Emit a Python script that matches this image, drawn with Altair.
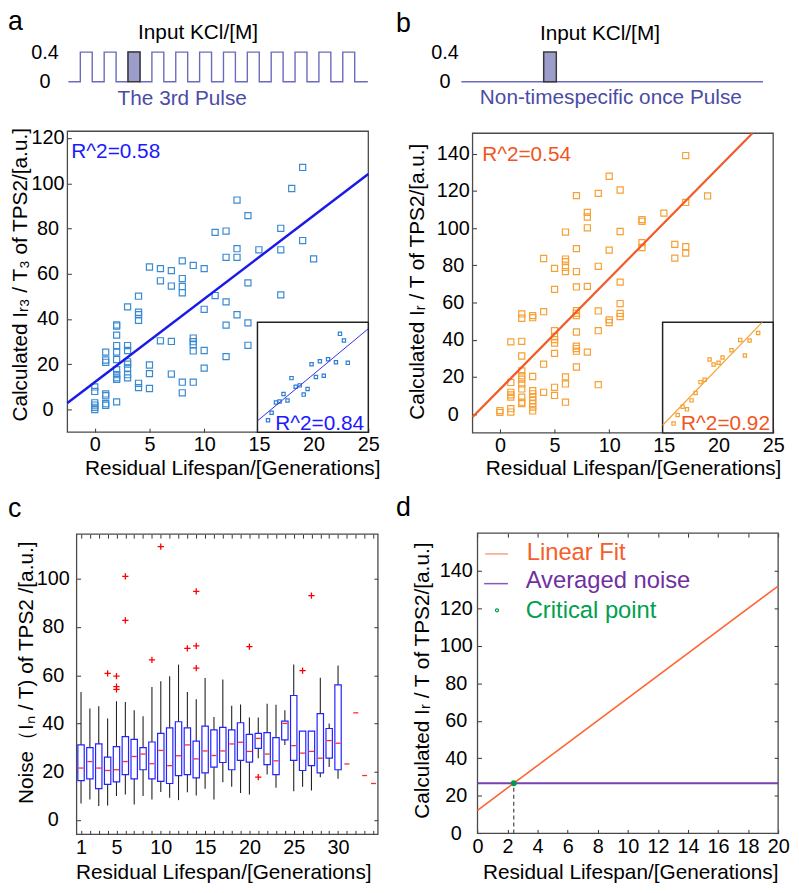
import altair as alt
import pandas as pd

W, H, M = 791, 885, 8
FONT = "Liberation Sans"

# ====================== data ======================
# top pulse schematics
pulse_starts_a = [1, 3, 5, 7, 9, 11, 13, 15, 17, 19, 21, 23]
pulse_width = 1.0
pulse_level = 0.4
pulse_end = 25.1
highlight = 2          # the 3rd pulse
pulse_b = [6.85, 7.9]  # single pulse in panel b

# panel a scatter
a_x = [0, 0, 0, 0, 0, 0,
       1, 1, 1, 1, 1, 1, 1,
       2, 2, 2, 2, 2, 2, 2, 2, 2, 2, 2,
       3, 3, 3, 3, 3, 3, 3, 3,
       4, 4, 4, 4, 4, 4,
       5, 5, 5, 5,
       6, 6, 6,
       7, 7, 7, 7,
       8, 8, 8, 8, 8, 8,
       9, 9, 9, 9, 9, 9,
       10, 10, 10, 10,
       11, 11,
       12, 12, 12, 12, 12,
       13, 13, 13, 13,
       14, 14, 14, 14,
       15,
       17, 17, 17,
       18,
       19, 19,
       20]
a_y = [10, 8, 3, 2, 1, 0,
       25.4, 21.9, 20.9, 6.9, 6.1, 2.6, 1.9,
       37.4, 36.9, 32.9, 28.3, 25.4, 22.1, 17.6, 15.4, 14, 13.3, 3.4,
       45.4, 28.3, 26.1, 21.1, 20.1, 18.3, 15.4, 14,
       50.1, 43, 41.9, 39.4, 11.6, 9.7,
       63, 19.7, 15.9, 9.3,
       62.3, 56.9, 30.4,
       61.4, 54.6, 30.1, 15.7,
       65.7, 57.9, 54.4, 51.6, 12.1, 7.4,
       63.7, 31.6, 30, 28.7, 25.9, 12.1,
       62.3, 44.3, 26.1, 18.3,
       78.3, 50.4,
       78.9, 67.3, 47.6, 37.3, 23.4,
       92.6, 71.1, 67.3, 41.9,
       85.7, 56, 38.3, 28.4,
       70.6,
       80.1, 70.6, 50.7,
       97.7,
       107, 74.7,
       66.6]
a_fit_x = [-2.5, 25]
a_fit_y = [2.9, 104.1]
a_in_x = [0.95, 1.28, 1.67, 1.99, 2.35, 2.71, 3.07, 3.45, 3.81, 4.17,
          4.52, 4.88, 5.27, 5.63, 5.98, 6.37, 7.08, 7.44, 7.80, 8.15]
a_in_y = [1.08, 1.77, 2.70, 2.79, 3.48, 2.88, 4.92, 4.14, 4.26, 3.42,
          3.93, 6.19, 5.02, 6.46, 5.14, 6.64, 6.37, 8.95, 8.35, 6.31]
a_in_fit_x = [0, 10]
a_in_fit_y = [1.03, 9.42]

# panel b scatter
b_x = [0, 0,
       1, 1, 1, 1, 1, 1, 1,
       2, 2, 2, 2, 2, 2, 2, 2, 2, 2, 2, 2,
       3, 3, 3, 3, 3, 3, 3, 3, 3, 3,
       4, 4, 4, 4,
       5, 5, 5, 5, 5, 5, 5, 5, 5,
       6, 6, 6, 6, 6, 6, 6, 6,
       7, 7, 7, 7, 7, 7, 7, 7, 7, 7, 7, 7,
       8, 8, 8, 8, 8,
       9, 9, 9, 9, 9,
       10, 10, 10, 10,
       11, 11, 11, 11, 11, 11,
       13, 13, 13, 13,
       15,
       16, 16,
       17, 17, 17, 17,
       19]
b_y = [2, 1,
       38.9, 17.1, 11.8, 10.4, 9.2, 3, 1.2,
       53.9, 51.6, 39.2, 31.3, 23.3, 20.7, 18.9, 16.3, 13.6, 9.2, 6.5, 5.7,
       53, 51.9, 20.3, 12.7, 11, 9.2, 7.4, 5.7, 3.9, 1.8,
       83.7, 55.1, 26.9, 11.8,
       78.4, 67.1, 44.9, 41.9, 40.1, 38.3, 32.7, 14.5, 10.1,
       97.9, 83.4, 82, 79, 76.7, 20.1, 16.3, 6.5,
       117.5, 89, 76.7, 68.4, 55.7, 54.2, 53, 44.2, 36.6, 35.3, 33.9, 25.4,
       108.5, 106, 100.2, 68.7, 33.4,
       118.7, 79.5, 55.5, 44.9, 15.9,
       127.9, 88.2, 50.7, 49.3,
       120.5, 98.2, 71, 59.5, 54.2, 52.5,
       104.6, 103.7, 92.2, 89.6,
       108.1,
       91.3, 83.9,
       139, 113.8, 90.1, 86.6,
       117.3]
b_fit_x = [-2.5, 23.1]
b_fit_y = [-1.5, 151]
b_in_x = [0.99, 1.36, 1.81, 2.20, 2.62, 2.98, 3.43, 3.80, 4.25, 4.61,
          5.06, 5.42, 6.23, 7.02, 7.44, 7.86, 8.64]
b_in_y = [0.84, 1.62, 2.37, 2.13, 2.94, 3.60, 4.59, 4.80, 6.64, 6.19,
          6.34, 6.82, 7.48, 8.41, 7.00, 8.35, 9.04]
b_in_fit_x = [0, 9.0]
b_in_fit_y = [0.69, 10]

# panel c boxplots
c_pos = [1, 2, 3, 4, 5, 6, 7, 8, 9, 10, 11, 12, 13, 14, 15,
         16, 17, 18, 19, 20, 21, 22, 23, 24, 25, 26, 27, 28, 29, 30]
c_lo = [6.8, 8.5, 5.8, 6, 9.9, 10.5, 6.4, 9.9, 8.5, 11.6, 9.2, 8.2, 11.5, 10.1, 12.9,
        8.5, 15.6, 13.7, 11.2, 10.5, 25.6, 18.8, 13.3, 31.1, 11.9, 13.7, 12.2, 17.7, 21.9, 17.1]
c_q1 = [16.3, 17, 13, 14.7, 15.8, 18.8, 17, 20.8, 17, 16, 15.1, 18.4, 18.8, 17.4, 19.5,
        21.9, 23.8, 20.8, 24.7, 24, 29.7, 22.9, 18.8, 33.2, 24.7, 20.5, 22.5, 19.5, 25.6, 20.8]
c_med = [21.5, 24.2, 21.5, 20.5, 20.8, 24.2, 26.3, 27.3, 23.3, 28.8, 22.5, 26.6, 31.1, 25.3, 28.6,
         26.7, 28.6, 31.5, 32.2, 28.4, 33.8, 27.3, 24.5, 40, 30.8, 27.7, 28.4, 25.6, 32.9, 31.8]
c_q3 = [31.1, 30, 31.5, 26, 30.4, 34.5, 33.4, 30, 32.3, 35.9, 38.2, 40.7, 38.2, 32.7, 38.9,
        37.3, 38.4, 37.3, 40.3, 35.5, 35.9, 36.2, 34.1, 41, 51.6, 36.8, 36.8, 44.1, 37.9, 56]
c_hi = [53, 46.2, 47.1, 42.1, 49.2, 48.9, 45.5, 43, 55.1, 57.5, 59.6, 64.4, 53, 50, 58.8,
        42.7, 58.2, 47.3, 47.9, 42.5, 42.5, 48.2, 47.8, 45.5, 64.4, 36.8, 36.8, 58.9, 40, 64]
c_out_pos = [4, 5, 5, 5, 6, 6, 9, 10, 13, 14, 14, 14, 20, 21, 26, 27]
c_out_val = [60.8, 59.6, 55.3, 54.1, 101, 82.7, 66.4, 113.3, 71.1, 94.8, 72.2, 62.9, 71.9, 17.7, 61.9, 93]
c_single_pos = [31, 32, 33, 34]
c_single_val = [23.2, 44.4, 18.4, 15.1]

# panel d
d_fit_x = [0, 20]
d_fit_y = [12.3, 131.8]
d_noise_x = [0, 20]
d_noise_y = [26.7, 26.7]
d_crit_x = [2.41]
d_crit_y = [26.7]

# axis domains and ticks
a_xdom, a_ydom = [-2.5, 25], [-10, 123]
b_xdom, b_ydom = [-2.5, 25], [-10, 151]
c_xdom, c_ydom = [0.5, 34.5], [-6, 118.5]
d_xdom, d_ydom = [0, 20], [0, 160]
in_dom = [0, 10]
pulse_xdom, pulse_ydom = [0, pulse_end], [0, pulse_level]
a_xticks = [0, 5, 10, 15, 20, 25]
a_yticks = [0, 20, 40, 60, 80, 100, 120]
b_yticks = [0, 20, 40, 60, 80, 100, 120, 140]
c_xticks = [1, 2, 3, 4, 5, 6, 7, 8, 9, 10, 11, 12, 13, 14, 15, 16, 17,
            18, 19, 20, 21, 22, 23, 24, 25, 26, 27, 28, 29, 30, 31, 32, 33, 34]
c_xlabels = [1, 5, 10, 15, 20, 25, 30]
c_yticks = [0, 20, 40, 60, 80, 100]
d_xticks = [0, 2, 4, 6, 8, 10, 12, 14, 16, 18, 20]
d_yticks = [0, 20, 40, 60, 80, 100, 120, 140]
a_in_ticks = [0.8, 2.5, 4.2, 5.8, 7.5, 9.2]
b_in_ticks = [0.8, 2.2, 3.6, 5.0, 6.4, 7.8, 9.3]

# ====================== helpers ======================
def sc(dom, p0, p1):
    return alt.Scale(domain=dom, range=[p0 - M, p1 - M], nice=False, zero=False)


def pts(xv, yv, sx, sy, **mk):
    df = pd.DataFrame({"x": xv, "y": yv})
    return alt.Chart(df).mark_point(**mk).encode(
        x=alt.X("x:Q", scale=sx, axis=None), y=alt.Y("y:Q", scale=sy, axis=None))


def line(xv, yv, sx, sy, **mk):
    df = pd.DataFrame({"x": xv, "y": yv, "i": list(range(len(xv)))})
    return alt.Chart(df).mark_line(**mk).encode(
        x=alt.X("x:Q", scale=sx, axis=None), y=alt.Y("y:Q", scale=sy, axis=None),
        order="i:Q")


def frame(xd, yd, sx, sy, **mk):
    df = pd.DataFrame({"x0": [xd[0]], "x1": [xd[1]], "y0": [yd[0]], "y1": [yd[1]]})
    return alt.Chart(df).mark_rect(**mk).encode(
        x=alt.X("x0:Q", scale=sx, axis=None), x2="x1:Q",
        y=alt.Y("y0:Q", scale=sy, axis=None), y2="y1:Q")


def axis_layer(ch, vals, scale, orient, edge, tick=4, labels=True, pad=3, size=20,
               expr=None, align=None, baseline=None, ticks=True, tcolor="#333"):
    if orient == "bottom":
        off = (edge - M - tick) - H
    elif orient in ("top", "left"):
        off = -((edge - M) + tick)
    else:
        off = (edge - M - tick) - W
    kw = dict(orient=orient, values=vals, offset=off, tickSize=tick, ticks=ticks,
              tickColor=tcolor, tickWidth=1, domain=False, grid=False, labels=labels,
              labelFont=FONT, labelFontSize=size, labelColor="black", labelPadding=pad,
              labelFlush=False, labelOverlap=False, format="~r", title=None)
    if expr:
        kw["labelExpr"] = expr
    if align:
        kw["labelAlign"] = align
    if baseline:
        kw["labelBaseline"] = baseline
    base = alt.Chart(pd.DataFrame({"v": vals})).mark_point(opacity=0)
    if ch == "x":
        return base.encode(x=alt.X("v:Q", scale=scale, axis=alt.Axis(**kw)))
    return base.encode(y=alt.Y("v:Q", scale=scale, axis=alt.Axis(**kw)))


def txt(s, x, y, size=21, color="black", align="center", angle=0, baseline="alphabetic"):
    kw = dict(align=align, baseline=baseline, fontSize=size, font=FONT, color=color)
    if angle:
        kw["angle"] = angle
    return alt.Chart(pd.DataFrame({"t": [s]})).mark_text(**kw).encode(
        x=alt.value(x - M), y=alt.value(y - M), text="t:N")


layers = []

# ====================== panel a ======================
PAX = sc(pulse_xdom, 69, 371.5)
PAY = sc(pulse_ydom, 78, 48)
t_a, l_a = [0.0], [0.0]
for s in pulse_starts_a:
    t_a += [s, s + pulse_width]
    l_a += [pulse_level, 0.0]
t_a.append(pulse_end)
l_a.append(0.0)
layers.append(line(t_a, l_a, PAX, PAY, color="#6b6bbb", strokeWidth=1.4,
                   interpolate="step-after"))
hs = pulse_starts_a[highlight]
layers.append(frame([hs, hs + pulse_width], [0, pulse_level], PAX, PAY,
                    fill="#9d9dcc", stroke="#3a3a3a", strokeWidth=1.5))
layers.append(axis_layer("y", [0, 0.4], PAY, "left", 69, tick=0, ticks=False, pad=24,
                         align="center", baseline="middle"))
layers.append(txt("Input KCl/[M]", 200, 35))
layers.append(txt("The 3rd Pulse", 184, 101, color="#4b4ba6"))
layers.append(txt("a", 8, 26, size=27, align="left"))

AX = sc(a_xdom, 68, 372)
AY = sc(a_ydom, 432, 128)
layers.append(frame(a_xdom, a_ydom, AX, AY, fillOpacity=0, stroke="#4a4a4a", strokeWidth=1.3))
layers.append(axis_layer("x", a_xticks, AX, "bottom", 432, pad=3))
layers.append(axis_layer("y", a_yticks, AY, "left", 68, pad=20, align="center"))
layers.append(pts(a_x, a_y, AX, AY, shape="square", filled=False, size=38,
                  color="#3a8ad2", strokeWidth=1.2, opacity=1))
layers.append(line(a_fit_x, a_fit_y, AX, AY, color="#1a1ae8", strokeWidth=2.5))
layers.append(txt("R^2=0.58", 72, 155, color="#1a1aff", align="left"))

AIX = sc(in_dom, 260, 372)
AIY = sc(in_dom, 432, 321)
layers.append(frame(in_dom, in_dom, AIX, AIY, fill="white", stroke="#222", strokeWidth=1.5))
layers.append(axis_layer("y", a_in_ticks, AIY, "left", 260, tick=3, labels=False, tcolor="#666"))
layers.append(pts(a_in_x, a_in_y, AIX, AIY, shape="square", filled=False, size=11,
                  color="#2f7fcf", strokeWidth=1.2, opacity=1))
layers.append(line(a_in_fit_x, a_in_fit_y, AIX, AIY, color="#3030ee", strokeWidth=1))
layers.append(txt("R^2=0.84", 278, 430, color="#1a1aff", align="left"))

layers.append(txt("Calculated  I\u1d63\u2083 / T\u2083 of TPS2/[a.u.]", 27, 273, angle=270))
layers.append(txt("Residual Lifespan/[Generations]", 235, 475))

# ====================== panel b ======================
PBX = sc(pulse_xdom, 466, 770.7)
layers.append(line([0, pulse_end], [0, 0], PBX, PAY, color="#6b6bbb", strokeWidth=1.4))
layers.append(frame(pulse_b, [0, pulse_level], PBX, PAY,
                    fill="#9d9dcc", stroke="#3a3a3a", strokeWidth=1.5))
layers.append(axis_layer("y", [0, 0.4], PAY, "left", 466, tick=0, ticks=False, pad=17,
                         align="center", baseline="middle"))
layers.append(txt("Input KCl/[M]", 606, 35.5))
layers.append(txt("Non-timespecific once Pulse", 617, 100, color="#4b4ba6"))
layers.append(txt("b", 400, 28, size=27, align="left"))

BX = sc(b_xdom, 477.3, 781)
BY = sc(b_ydom, 432.7, 130)
layers.append(frame(b_xdom, b_ydom, BX, BY, fillOpacity=0, stroke="#4a4a4a", strokeWidth=1.3))
layers.append(axis_layer("x", a_xticks, BX, "bottom", 432.7, pad=3))
layers.append(axis_layer("y", b_yticks, BY, "left", 477.3, pad=20, align="center"))
layers.append(pts(b_x, b_y, BX, BY, shape="square", filled=False, size=38,
                  color="#f7a035", strokeWidth=1.2, opacity=1))
layers.append(line(b_fit_x, b_fit_y, BX, BY, color="#f25a26", strokeWidth=2.2))
layers.append(txt("R^2=0.54", 487, 158, color="#f0561f", align="left"))

BIX = sc(in_dom, 669.3, 781)
BIY = sc(in_dom, 432.7, 321)
layers.append(frame(in_dom, in_dom, BIX, BIY, fill="white", stroke="#222", strokeWidth=1.5))
layers.append(axis_layer("y", b_in_ticks, BIY, "left", 669.3, tick=3, labels=False, tcolor="#666"))
layers.append(pts(b_in_x, b_in_y, BIX, BIY, shape="square", filled=False, size=11,
                  color="#f5a030", strokeWidth=1.2, opacity=1))
layers.append(line(b_in_fit_x, b_in_fit_y, BIX, BIY, color="#f5a030", strokeWidth=1.1))
layers.append(txt("R^2=0.92", 688, 430, color="#f0561f", align="left"))

layers.append(txt("Calculated  I\u1d63 / T of TPS2/[a.u.]", 428, 280, angle=270))
layers.append(txt("Residual Lifespan/[Generations]", 640, 475))

# ====================== panel c ======================
CX = sc(c_xdom, 77.3, 381.7)
CY = sc(c_ydom, 838.3, 535)
layers.append(txt("c", 8, 518, size=27, align="left"))
layers.append(frame(c_xdom, c_ydom, CX, CY, fillOpacity=0, stroke="#4a4a4a", strokeWidth=1.3))
lab_expr = "indexof(" + str(c_xlabels) + ", datum.value) >= 0 ? datum.label : ''"
layers.append(axis_layer("x", c_xticks, CX, "bottom", 838.3, pad=3, expr=lab_expr))
layers.append(axis_layer("x", c_xticks, CX, "top", 535, labels=False))
layers.append(axis_layer("y", c_yticks, CY, "left", 77.3, pad=24, align="center"))
layers.append(axis_layer("y", c_yticks, CY, "right", 381.7, labels=False))

df_c = pd.DataFrame({"pos": c_pos, "lo": c_lo, "q1": c_q1, "med": c_med,
                     "q3": c_q3, "hi": c_hi})
layers.append(alt.Chart(df_c).mark_rule(color="#222", strokeWidth=1.1).encode(
    x=alt.X("pos:Q", scale=CX, axis=None),
    y=alt.Y("lo:Q", scale=CY, axis=None), y2="hi:Q"))
layers.append(alt.Chart(df_c).transform_calculate(
    l="datum.pos - 0.36", r="datum.pos + 0.36").mark_rect(
    fill="white", stroke="#2323ff", strokeWidth=1.2).encode(
    x=alt.X("l:Q", scale=CX, axis=None), x2="r:Q",
    y=alt.Y("q1:Q", scale=CY, axis=None), y2="q3:Q"))
layers.append(alt.Chart(df_c).transform_calculate(
    l="datum.pos - 0.28", r="datum.pos + 0.28").mark_rule(
    color="#ff2a2a", strokeWidth=1.3).encode(
    x=alt.X("l:Q", scale=CX, axis=None), x2="r:Q",
    y=alt.Y("med:Q", scale=CY, axis=None)))
df_cs = pd.DataFrame({"pos": c_single_pos, "v": c_single_val})
layers.append(alt.Chart(df_cs).transform_calculate(
    l="datum.pos - 0.28", r="datum.pos + 0.28").mark_rule(
    color="#ff2a2a", strokeWidth=1.3).encode(
    x=alt.X("l:Q", scale=CX, axis=None), x2="r:Q",
    y=alt.Y("v:Q", scale=CY, axis=None)))
layers.append(pts(c_out_pos, c_out_val, CX, CY, shape="M-1,0L1,0M0,-1L0,1",
                  filled=False, size=40, color="#ff0000", strokeWidth=1.3, opacity=1))
layers.append(txt("Noise\uff08I\u2099 / T) of TPS2 /[a.u.]", 33, 675, angle=270))
layers.append(txt("Residual Lifespan/[Generations]", 226, 883))

# ====================== panel d ======================
DX = sc(d_xdom, 482.3, 786)
DY = sc(d_ydom, 837.3, 534)
layers.append(txt("d", 400, 517, size=27, align="left"))
layers.append(frame(d_xdom, d_ydom, DX, DY, fillOpacity=0, stroke="#4a4a4a", strokeWidth=1.3))
layers.append(axis_layer("x", d_xticks, DX, "bottom", 837.3, pad=3))
layers.append(axis_layer("x", d_xticks, DX, "top", 534, labels=False))
layers.append(axis_layer("y", d_yticks, DY, "left", 482.3, pad=22, align="center"))
layers.append(axis_layer("y", d_yticks, DY, "right", 786, labels=False))
layers.append(line(d_noise_x, d_noise_y, DX, DY, color="#7a3fb0", strokeWidth=2))
layers.append(line(d_fit_x, d_fit_y, DX, DY, color="#ff6534", strokeWidth=1.6))
df_crit = pd.DataFrame({"x": d_crit_x, "y": d_crit_y, "y0": [d_ydom[0]]})
layers.append(alt.Chart(df_crit).mark_rule(color="#555", strokeWidth=1.3,
                                           strokeDash=[4, 3]).encode(
    x=alt.X("x:Q", scale=DX, axis=None),
    y=alt.Y("y0:Q", scale=DY, axis=None), y2="y:Q"))
layers.append(pts(d_crit_x, d_crit_y, DX, DY, shape="circle", filled=True, size=36,
                  color="#00994c", opacity=1))

# legend
layers.append(alt.Chart(pd.DataFrame({"t": ["Linear Fit"]})).mark_rule(
    color="#f9a080", strokeWidth=1.5).encode(
    x=alt.value(490 - M), x2=alt.value(513 - M), y=alt.value(555 - M)))
layers.append(alt.Chart(pd.DataFrame({"t": ["Averaged noise"]})).mark_rule(
    color="#8a55c0", strokeWidth=1.5).encode(
    x=alt.value(489 - M), x2=alt.value(513 - M), y=alt.value(585 - M)))
layers.append(alt.Chart(pd.DataFrame({"t": ["Critical point"]})).mark_point(
    shape="circle", filled=False, size=10, color="#00994c", strokeWidth=1.2, opacity=1).encode(
    x=alt.value(502 - M), y=alt.value(612 - M)))
layers.append(txt("Linear Fit", 532, 561, size=24, color="#f4602a", align="left"))
layers.append(txt("Averaged noise", 531, 589, size=24, color="#7030a0", align="left"))
layers.append(txt("Critical point", 531, 620, size=24, color="#00a050", align="left"))

layers.append(txt("Calculated  I\u1d63 / T of TPS2/[a.u.]", 433, 683, angle=270))
layers.append(txt("Residual Lifespan/[Generations]", 637, 883))

chart = alt.layer(*layers).resolve_scale(
    x="independent", y="independent"
).properties(
    width=W, height=H,
    autosize=alt.AutoSizeParams(type="none"),
    padding=0,
    background="white",
).configure_view(stroke=None)

chart.save("out.html", embed_options={"renderer": "svg", "actions": False})
